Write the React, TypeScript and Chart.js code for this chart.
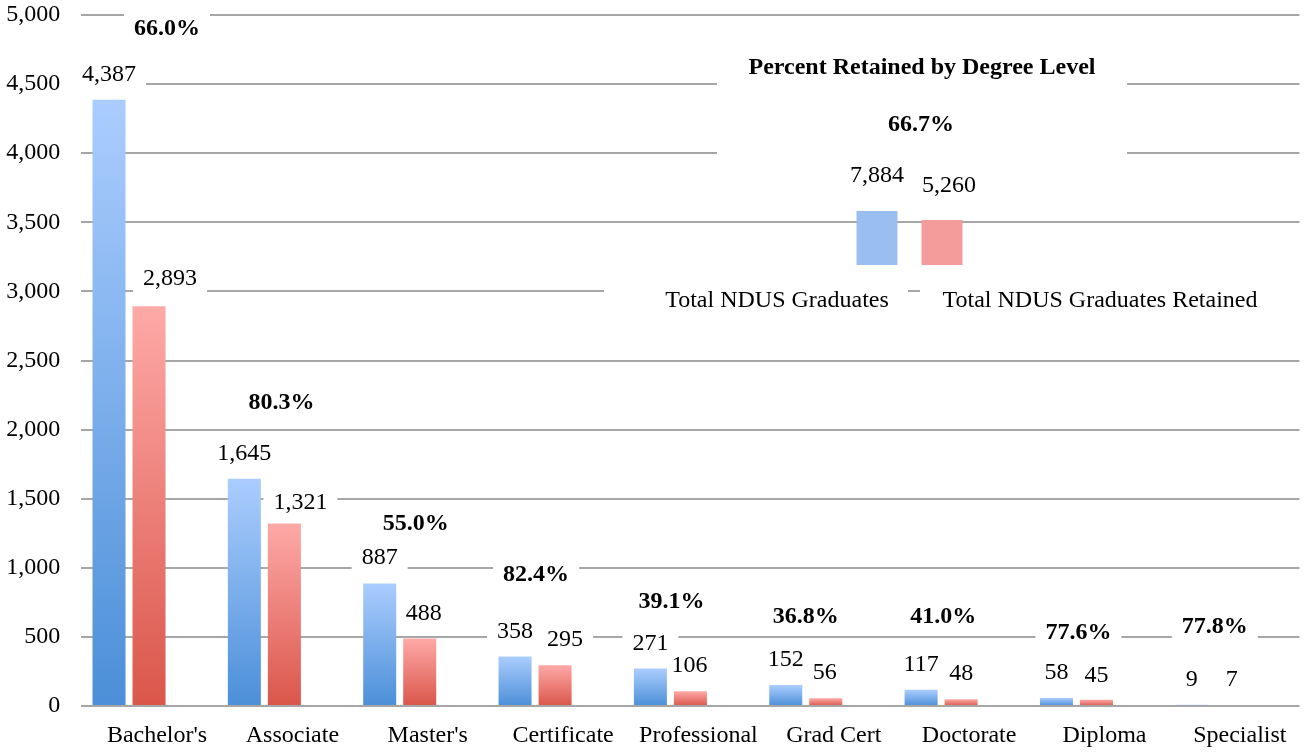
import React, { useEffect, useRef } from 'react';
import { Chart, registerables } from 'chart.js';

Chart.register(...registerables);

// ---------- data ----------
const categories = ["Bachelor's", 'Associate', "Master's", 'Certificate', 'Professional', 'Grad Cert', 'Doctorate', 'Diploma', 'Specialist'];
const totalGraduates = [4387, 1645, 887, 358, 271, 152, 117, 58, 9];
const retainedGraduates = [2893, 1321, 488, 295, 106, 56, 48, 45, 7];
const percentRetained = [66.0, 80.3, 55.0, 82.4, 39.1, 36.8, 41.0, 77.6, 77.8];
const seriesNames = ['Total NDUS Graduates', 'Total NDUS Graduates Retained'];
const summaryTitle = 'Percent Retained by Degree Level';
const summaryValues = [7884, 5260];
const summaryPercent = 66.7;
const yMax = 5000;
const yStep = 500;

// ---------- label placement nudges (styling, px) ----------
const pctLabelDx = [18, -3, -4, -19, -19, -20, -18, -18, -17];
const pctLabelDy = [-73, -78, -61, -84, -69, -70, -75, -67, -80];
const retainedLabelDx = [21, 16, 4, 10, -1, -1, 0, 0, 0];
const retainedLabelDy = [-29, -22, -27, -27, -27, -27, -27, -26, -27];

const FONT = '"Liberation Serif", "Times New Roman", Times, serif';
const FS = 24;
const fmt = (v: number) => v.toLocaleString('en-US');

function gradientFill(light: string, dark: string) {
  return (c: any) => {
    const chart = c.chart;
    const { ctx, chartArea, scales } = chart;
    if (!chartArea || !scales || !scales.y || c.type !== 'data') return dark;
    const v = c.raw as number;
    const top = scales.y.getPixelForValue(v);
    const bottom = scales.y.getPixelForValue(0);
    if (!(bottom - top > 0.5)) return dark;
    const g = ctx.createLinearGradient(0, top, 0, bottom);
    g.addColorStop(0, light);
    g.addColorStop(1, dark);
    return g;
  };
}

type Item = { text: string; x: number; cy: number; bold: boolean };

function labelItems(chart: any): Item[] {
  const items: Item[] = [];
  const m0 = chart.getDatasetMeta(0);
  const m1 = chart.getDatasetMeta(1);
  categories.forEach((_, i) => {
    const b = m0.data[i];
    const r = m1.data[i];
    if (!b || !r) return;
    items.push({ text: fmt(totalGraduates[i]), x: b.x, cy: b.y - 27, bold: false });
    items.push({ text: fmt(retainedGraduates[i]), x: r.x + retainedLabelDx[i], cy: r.y + retainedLabelDy[i], bold: false });
    const cx = chart.scales.x.getPixelForValue(i);
    items.push({ text: percentRetained[i].toFixed(1) + '%', x: cx + pctLabelDx[i], cy: b.y + pctLabelDy[i], bold: true });
  });
  return items;
}

const labelPlugin = {
  id: 'labelPlugin',
  beforeDatasetsDraw(chart: any) {
    const ctx = chart.ctx;
    ctx.save();
    ctx.fillStyle = '#ffffff';
    for (const it of labelItems(chart)) {
      ctx.font = `${it.bold ? 'bold ' : ''}${FS}px ${FONT}`;
      const w = ctx.measureText(it.text).width;
      ctx.fillRect(it.x - w / 2 - 10, it.cy - 15, w + 20, 30);
    }
    // summary panel boxes
    ctx.fillRect(717, 35, 410, 132);
    ctx.fillRect(604, 280, 304, 38);
    ctx.fillRect(920, 280, 386, 38);
    ctx.restore();
  },
  afterDatasetsDraw(chart: any) {
    const ctx = chart.ctx;
    ctx.save();
    ctx.fillStyle = '#000000';
    ctx.textAlign = 'center';
    ctx.textBaseline = 'alphabetic';
    for (const it of labelItems(chart)) {
      ctx.font = `${it.bold ? 'bold ' : ''}${FS}px ${FONT}`;
      ctx.fillText(it.text, it.x, it.cy + 8);
    }
    ctx.font = `bold ${FS}px ${FONT}`;
    ctx.fillText(summaryTitle, 922, 74);
    ctx.fillText(summaryPercent.toFixed(1) + '%', 921, 131);
    ctx.font = `${FS}px ${FONT}`;
    ctx.fillText(seriesNames[0], 777, 307);
    ctx.fillText(seriesNames[1], 1100, 307);
    ctx.restore();
  },
};

const insetLabelPlugin = {
  id: 'insetLabelPlugin',
  afterDatasetsDraw(chart: any) {
    const ctx = chart.ctx;
    const meta = chart.getDatasetMeta(0);
    ctx.save();
    ctx.fillStyle = '#000000';
    ctx.textAlign = 'center';
    ctx.textBaseline = 'alphabetic';
    ctx.font = `${FS}px ${FONT}`;
    const dx = [0, 7];
    const dy = [-37, -36];
    meta.data.forEach((el: any, i: number) => {
      ctx.fillText(fmt(summaryValues[i]), el.x + dx[i], el.y + dy[i] + 8);
    });
    ctx.restore();
  },
};

export default function App() {
  const mainRef = useRef<HTMLCanvasElement>(null);
  const insetRef = useRef<HTMLCanvasElement>(null);

  useEffect(() => {
    if (!mainRef.current || !insetRef.current) return;
    const main = new Chart(mainRef.current, {
      type: 'bar',
      data: {
        labels: categories,
        datasets: [
          {
            label: seriesNames[0],
            data: totalGraduates,
            backgroundColor: gradientFill('#abcdfe', '#4b8fd8'),
            borderWidth: 0,
          },
          {
            label: seriesNames[1],
            data: retainedGraduates,
            backgroundColor: gradientFill('#fea9a7', '#da564a'),
            borderWidth: 0,
          },
          {
            label: 'Percent Retained',
            data: categories.map(() => null),
            backgroundColor: 'rgba(0,0,0,0)',
            borderWidth: 0,
          },
        ],
      },
      options: {
        responsive: false,
        animation: false,
        devicePixelRatio: 1,
        datasets: { bar: { categoryPercentage: 0.887, barPercentage: 0.825 } },
        layout: { padding: { left: 6, right: 6.5, top: 15, bottom: 0 } },
        plugins: { legend: { display: false }, tooltip: { enabled: false }, title: { display: false } },
        scales: {
          x: {
            grid: { display: false, drawTicks: false },
            border: { display: false },
            ticks: { color: '#000', font: { family: FONT, size: FS }, padding: 15, labelOffset: 8, maxRotation: 0, autoSkip: false },
            afterFit: (s: any) => {
              s.height = 46;
              s.paddingLeft = 0;
              s.paddingRight = 0;
            },
          },
          y: {
            min: 0,
            max: yMax,
            ticks: { stepSize: yStep, color: '#000', font: { family: FONT, size: FS }, padding: 21 },
            grid: { color: '#a6a6a6', lineWidth: 2, drawTicks: false },
            border: { display: false },
            afterFit: (s: any) => {
              s.width = 75.35;
              s.paddingTop = 0;
              s.paddingBottom = 0;
            },
          },
        },
      } as any,
      plugins: [labelPlugin],
    });

    const inset = new Chart(insetRef.current, {
      type: 'bar',
      data: {
        labels: seriesNames,
        datasets: [
          {
            data: summaryValues,
            backgroundColor: ['#9abef0', '#f49b9b'],
            borderWidth: 0,
            base: -7860,
          } as any,
        ],
      },
      options: {
        responsive: false,
        animation: false,
        devicePixelRatio: 1,
        layout: { padding: { left: 14.5, right: 15.5, top: 0, bottom: 1 } },
        datasets: { bar: { categoryPercentage: 1, barPercentage: 0.63 } },
        plugins: { legend: { display: false }, tooltip: { enabled: false } },
        scales: {
          x: { display: false },
          y: { display: false, min: -7860, max: 25670 },
        },
      } as any,
      plugins: [insetLabelPlugin],
    });

    return () => {
      main.destroy();
      inset.destroy();
    };
  }, []);

  return (
    <div style={{ position: 'fixed', left: 0, top: 0, width: 1306, height: 752, background: '#fff' }}>
      <canvas ref={mainRef} width={1306} height={752} style={{ position: 'absolute', left: 0, top: 0 }} />
      <canvas ref={insetRef} width={160} height={116} style={{ position: 'absolute', left: 830, top: 150 }} />
    </div>
  );
}
